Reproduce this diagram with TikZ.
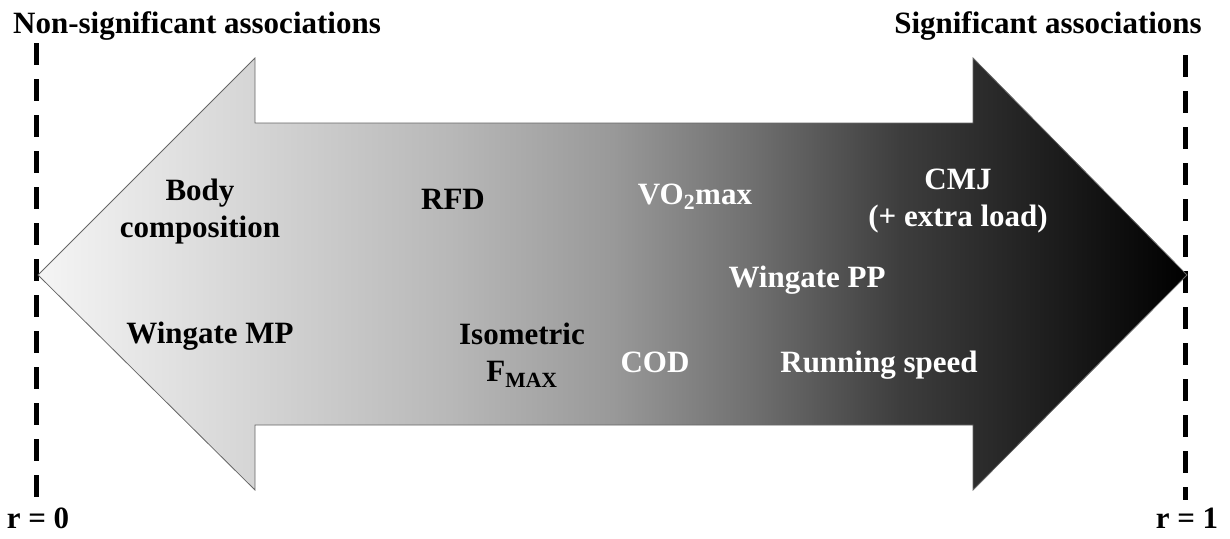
\documentclass[tikz,border=0pt]{standalone}
\usepackage{fontspec}
\setmainfont{Liberation Serif}
\usetikzlibrary{positioning}
\pgfdeclarehorizontalshading{assocgrad}{100bp}{rgb(0bp)=(0.96,0.96,0.96); rgb(25bp)=(0.96,0.96,0.96); rgb(43bp)=(0.72,0.72,0.72); rgb(50bp)=(0.6,0.6,0.6); rgb(56bp)=(0.44,0.44,0.44); rgb(62.5bp)=(0.24,0.24,0.24); rgb(75bp)=(0,0,0); rgb(100bp)=(0,0,0)}
\tikzset{
    darktxt/.style={
        font=\fontsize{31}{37}\selectfont\bfseries,
        text=black,
        align=center,
        inner sep=0pt
    },
    lighttxt/.style={
        darktxt,
        text=white
    },
    limitline/.style={
        draw=black,
        line width=5pt,
        dash pattern=on 22pt off 14pt
    },
    bigarrow/.style={
        draw=black!60,
        line width=0.8pt,
        shading=assocgrad
    }
}
\begin{document}
\begin{tikzpicture}[x=1pt, y=-1pt]
\useasboundingbox (0,0) rectangle (1230,538);

% Limits
\coordinate (l0top) at (36,43);
\coordinate (l0bot) at (36,500);
\coordinate (l1top) at (1185,55);
\coordinate (l1bot) at (1185,500);
\draw[limitline] (l0top) -- (l0bot);
\draw[limitline] (l1top) -- (l1bot);

% Double arrow
\path[bigarrow] (38,275) -- (255,58) -- (255,123) -- (973,123) -- (973,58) -- (1187,275)
    -- (973,490) -- (973,425) -- (255,425) -- (255,490) -- cycle;

% Headings
\node[darktxt, anchor=base] (nonsig) at (197,33) {Non-significant associations};
\node[darktxt, anchor=base] (sig) at (1048,33) {Significant associations};
\node[darktxt, anchor=base] (rzero) at (38,528) {r = 0};
\node[darktxt, anchor=base] (rone) at (1187,528) {r = 1};

% Variables
\node[darktxt] (body) at (200,212) {Body\\composition};
\node[darktxt, anchor=base] (rfd) at (453,209) {RFD};
\node[lighttxt, anchor=base] (vo2) at (695,204) {VO\textsubscript{2}max};
\node[lighttxt] (cmj) at (958,201) {CMJ\\(+ extra load)};
\node[lighttxt, anchor=base] (wpp) at (807,287) {Wingate PP};
\node[darktxt, anchor=base] (wmp) at (210,343) {Wingate MP};
\node[darktxt] (fmax) at (522,355) {Isometric\\F\textsubscript{MAX}};
\node[lighttxt, anchor=base] (cod) at (655,372) {COD};
\node[lighttxt, anchor=base] (run) at (879,372) {Running speed};

\end{tikzpicture}
\end{document}
